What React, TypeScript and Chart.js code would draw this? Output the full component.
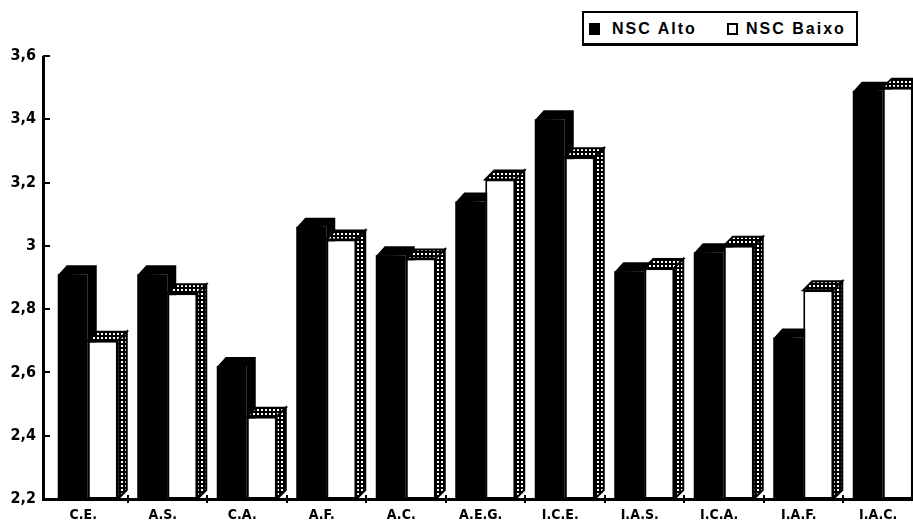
import React, { useEffect, useRef } from 'react';
import { Chart, registerables } from 'chart.js';

Chart.register(...registerables);

const CATEGORIES = ['C.E.', 'A.S.', 'C.A.', 'A.F.', 'A.C.', 'A.E.G.', 'I.C.E.', 'I.A.S.', 'I.C.A.', 'I.A.F.', 'I.A.C.'];
const SERIES_NAMES = ['NSC Alto', 'NSC Baixo'];
const NSC_ALTO = [2.91, 2.91, 2.62, 3.06, 2.97, 3.14, 3.4, 2.92, 2.98, 2.71, 3.49];
const NSC_BAIXO = [2.7, 2.85, 2.46, 3.02, 2.96, 3.21, 3.28, 2.93, 3.0, 2.86, 3.5];
const Y_TICKS = [2.2, 2.4, 2.6, 2.8, 3.0, 3.2, 3.4, 3.6];
const Y_TICK_LABELS = ['2,2', '2,4', '2,6', '2,8', '3', '3,2', '3,4', '3,6'];

const NARROW = '"Liberation Sans Narrow", "DejaVu Sans Condensed", "Arial Narrow", "Liberation Sans", sans-serif';
const DEPTH = 9;

function makePattern(ctx: CanvasRenderingContext2D) {
  const c = document.createElement('canvas');
  c.width = 4;
  c.height = 4;
  const p = c.getContext('2d')!;
  p.fillStyle = '#000';
  p.fillRect(0, 0, 4, 4);
  p.fillStyle = '#fff';
  p.fillRect(1, 1, 2, 2);
  return ctx.createPattern(c, 'repeat');
}

const depthPlugin = {
  id: 'depth3d',
  beforeDatasetsDraw(chart: any) {
    const ctx = chart.ctx as CanvasRenderingContext2D;
    const meta = chart.getDatasetMeta(0);
    const bottom = chart.chartArea.bottom;
    ctx.save();
    ctx.fillStyle = '#000';
    meta.data.forEach((el: any) => {
      const { x, y, base, width } = el.getProps(['x', 'y', 'base', 'width'], true);
      const b = Math.min(base, bottom);
      const l = x - width / 2;
      const r = x + width / 2;
      ctx.beginPath();
      ctx.moveTo(l, y + 1);
      ctx.lineTo(l + DEPTH, y - DEPTH);
      ctx.lineTo(r + DEPTH, y - DEPTH);
      ctx.lineTo(r + DEPTH, b - DEPTH);
      ctx.lineTo(r, b);
      ctx.lineTo(r, y);
      ctx.closePath();
      ctx.fill();
    });
    ctx.restore();
  },
  afterDatasetsDraw(chart: any) {
    const ctx = chart.ctx as CanvasRenderingContext2D;
    const pat = makePattern(ctx);
    const meta = chart.getDatasetMeta(1);
    const bottom = chart.chartArea.bottom;
    ctx.save();
    ctx.strokeStyle = '#000';
    ctx.lineWidth = 2;
    ctx.lineJoin = 'miter';
    meta.data.forEach((el: any) => {
      const { x, y, base, width } = el.getProps(['x', 'y', 'base', 'width'], true);
      const b = Math.min(base, bottom);
      const l = x - width / 2;
      const r = x + width / 2;
      ctx.fillStyle = pat as any;
      ctx.beginPath();
      ctx.moveTo(l, y);
      ctx.lineTo(l + DEPTH, y - DEPTH);
      ctx.lineTo(r + DEPTH, y - DEPTH);
      ctx.lineTo(r, y);
      ctx.closePath();
      ctx.fill();
      ctx.stroke();
      ctx.beginPath();
      ctx.moveTo(r, y);
      ctx.lineTo(r + DEPTH, y - DEPTH);
      ctx.lineTo(r + DEPTH, b - DEPTH);
      ctx.lineTo(r, b);
      ctx.closePath();
      ctx.fill();
      ctx.stroke();
    });

    // axes
    const xs = chart.scales.x;
    const ys = chart.scales.y;
    const axisX = chart.chartArea.left - 5;
    const y0 = ys.getPixelForValue(Y_TICKS[0]);
    const yTop = ys.getPixelForValue(Y_TICKS[Y_TICKS.length - 1]);
    ctx.fillStyle = '#000';
    ctx.fillRect(axisX - 1, yTop, 3, y0 - yTop + 2);
    Y_TICKS.forEach((v) => {
      const py = Math.round(ys.getPixelForValue(v));
      ctx.fillRect(axisX, py - 1, 7, 2);
    });
    ctx.fillRect(axisX - 1, y0 - 1, chart.width, 3);
    const n = CATEGORIES.length;
    const step = xs.getPixelForValue(1) - xs.getPixelForValue(0);
    for (let i = 1; i < n; i++) {
      const bx = Math.round(xs.getPixelForValue(i) - step / 2);
      ctx.fillRect(bx - 1, y0 - 4, 2, 8);
    }
    ctx.restore();
  },
};

export default function App() {
  const ref = useRef<HTMLCanvasElement>(null);
  useEffect(() => {
    if (!ref.current) return;
    const chart = new Chart(ref.current, {
      type: 'bar',
      data: {
        labels: CATEGORIES,
        datasets: [
          {
            label: SERIES_NAMES[0],
            data: NSC_ALTO,
            base: Y_TICKS[0],
            backgroundColor: '#000',
            borderWidth: 0,
          },
          {
            label: SERIES_NAMES[1],
            data: NSC_BAIXO,
            base: Y_TICKS[0],
            backgroundColor: '#fff',
            borderColor: '#000',
            borderWidth: 2,
            borderSkipped: false,
          },
        ],
      },
      options: {
        responsive: false,
        animation: false,
        events: [],
        layout: { padding: { left: 8, right: 7.5, top: 56, bottom: 0 } },
        datasets: { bar: { categoryPercentage: 0.755, barPercentage: 1.0 } },
        plugins: { legend: { display: false }, tooltip: { enabled: false } },
        scales: {
          x: {
            offset: true,
            grid: { display: false, drawTicks: false },
            border: { display: false },
            ticks: {
              color: '#000',
              font: { family: NARROW, size: 14, weight: 'bold' },
              padding: 8,
              labelOffset: -4.5,
              maxRotation: 0,
              autoSkip: false,
            },
            afterFit: (s: any) => {
              s.height = 23;
            },
          },
          y: {
            min: Y_TICKS[0],
            max: Y_TICKS[Y_TICKS.length - 1],
            grid: { display: false, drawTicks: false },
            border: { display: false },
            afterBuildTicks: (s: any) => {
              s.ticks = Y_TICKS.map((v) => ({ value: v }));
            },
            ticks: {
              color: '#000',
              font: { family: NARROW, size: 16, weight: 'bold' },
              padding: 12,
              callback: (v: any) => {
                const i = Y_TICKS.findIndex((t) => Math.abs(t - Number(v)) < 1e-6);
                return i >= 0 ? Y_TICK_LABELS[i] : '';
              },
            },
            afterFit: (s: any) => {
              s.width = 40;
            },
          },
        },
      },
      plugins: [depthPlugin],
    });
    return () => chart.destroy();
  }, []);

  const legendFont = '"Liberation Sans", Arial, sans-serif';
  return (
    <div style={{ position: 'fixed', left: 0, top: 0, width: 913, height: 522, overflow: 'hidden', background: '#fff' }}>
      <canvas ref={ref} width={930} height={522} style={{ display: 'block', width: 930, height: 522 }} />
      <div
        style={{
          position: 'absolute',
          left: 582,
          top: 11,
          width: 276,
          height: 35,
          border: '2px solid #000',
          borderBottomWidth: 3,
          boxSizing: 'border-box',
          background: '#fff',
        }}
      />
      <div style={{ position: 'absolute', left: 589, top: 23, width: 11, height: 12, background: '#000' }} />
      <div
        style={{
          position: 'absolute',
          left: 612,
          top: 19,
          fontFamily: legendFont,
          fontWeight: 700,
          fontSize: 16,
          letterSpacing: '2px',
          lineHeight: '20px',
          color: '#000',
          whiteSpace: 'nowrap',
        }}
      >
        {SERIES_NAMES[0]}
      </div>
      <div
        style={{
          position: 'absolute',
          left: 727,
          top: 23,
          width: 11,
          height: 12,
          border: '2px solid #000',
          boxSizing: 'border-box',
          background: '#fff',
        }}
      />
      <div
        style={{
          position: 'absolute',
          left: 746,
          top: 19,
          fontFamily: legendFont,
          fontWeight: 700,
          fontSize: 16,
          letterSpacing: '2px',
          lineHeight: '20px',
          color: '#000',
          whiteSpace: 'nowrap',
        }}
      >
        {SERIES_NAMES[1]}
      </div>
    </div>
  );
}
